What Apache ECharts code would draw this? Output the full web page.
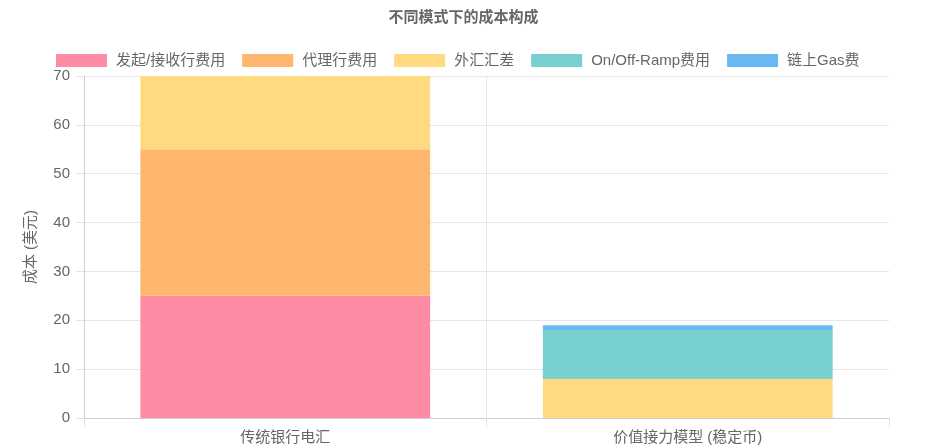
<!DOCTYPE html>
<html>
<head>
<meta charset="utf-8">
<script src="https://cdn.jsdelivr.net/npm/echarts@6/dist/echarts.min.js"></script>
<style>
html,body{margin:0;padding:0;background:#fff;}
#c{width:927px;height:447px;}
</style>
</head>
<body>
<div id="c"></div>
<script>
const categories = ['传统银行电汇', '价值接力模型 (稳定币)'];
const seriesNames = ['发起/接收行费用', '代理行费用', '外汇汇差', 'On/Off-Ramp费用', '链上Gas费'];
const originFees = [25, 0];
const correspondentFees = [30, 0];
const fxSpread = [15, 8];
const rampFees = [0, 10];
const gasFees = [0, 1];
const yTicks = [0, 10, 20, 30, 40, 50, 60, 70];

const colors = ['#ff8aa3', '#ffb770', '#ffda80', '#78d0d0', '#68b9f0'];
const dataSets = [originFees, correspondentFees, fxSpread, rampFees, gasFees];
const FF = '"Liberation Sans", "Noto Sans CJK SC", sans-serif';

const chart = echarts.init(document.getElementById('c'), null, {renderer: 'canvas'});
chart.setOption({
  animation: false,
  textStyle: {fontFamily: FF},
  title: {
    text: '不同模式下的成本构成',
    left: 'center',
    top: 5,
    textStyle: {fontSize: 15, fontWeight: 'bold', color: '#666', fontFamily: FF}
  },
  legend: {
    top: 48,
    left: 51,
    itemWidth: 51,
    itemHeight: 13,
    itemGap: 17,
    icon: 'rect',
    textStyle: {fontSize: 15, color: '#666', fontFamily: FF, padding: [0, 0, 0, 4]},
    data: seriesNames
  },
  grid: {left: 84, right: 38, top: 76, bottom: 29, containLabel: false},
  xAxis: {
    type: 'category',
    data: categories,
    boundaryGap: true,
    axisLine: {lineStyle: {color: '#cfcfcf'}},
    axisTick: {show: true, length: 9, lineStyle: {color: '#e2e2e2'}},
    axisLabel: {fontSize: 15, color: '#666', margin: 12, fontFamily: FF},
    splitLine: {show: true, lineStyle: {color: ['#e6e6e6', '#e6e6e6', 'rgba(0,0,0,0)']}}
  },
  yAxis: {
    type: 'value',
    min: yTicks[0],
    max: yTicks[yTicks.length - 1],
    interval: 10,
    name: '成本 (美元)',
    nameLocation: 'middle',
    nameGap: 46,
    nameRotate: 90,
    nameTextStyle: {fontSize: 15, color: '#666', fontFamily: FF},
    axisLine: {show: true, lineStyle: {color: '#cfcfcf'}},
    axisTick: {show: true, length: 8, lineStyle: {color: '#e2e2e2'}},
    axisLabel: {fontSize: 15, color: '#666', margin: 14, fontFamily: FF},
    splitLine: {show: true, lineStyle: {color: '#e6e6e6'}}
  },
  series: seriesNames.map((n, i) => ({
    name: n,
    type: 'bar',
    stack: 'total',
    barCategoryGap: '28%',
    itemStyle: {color: colors[i]},
    data: dataSets[i]
  }))
});
</script>
</body>
</html>
